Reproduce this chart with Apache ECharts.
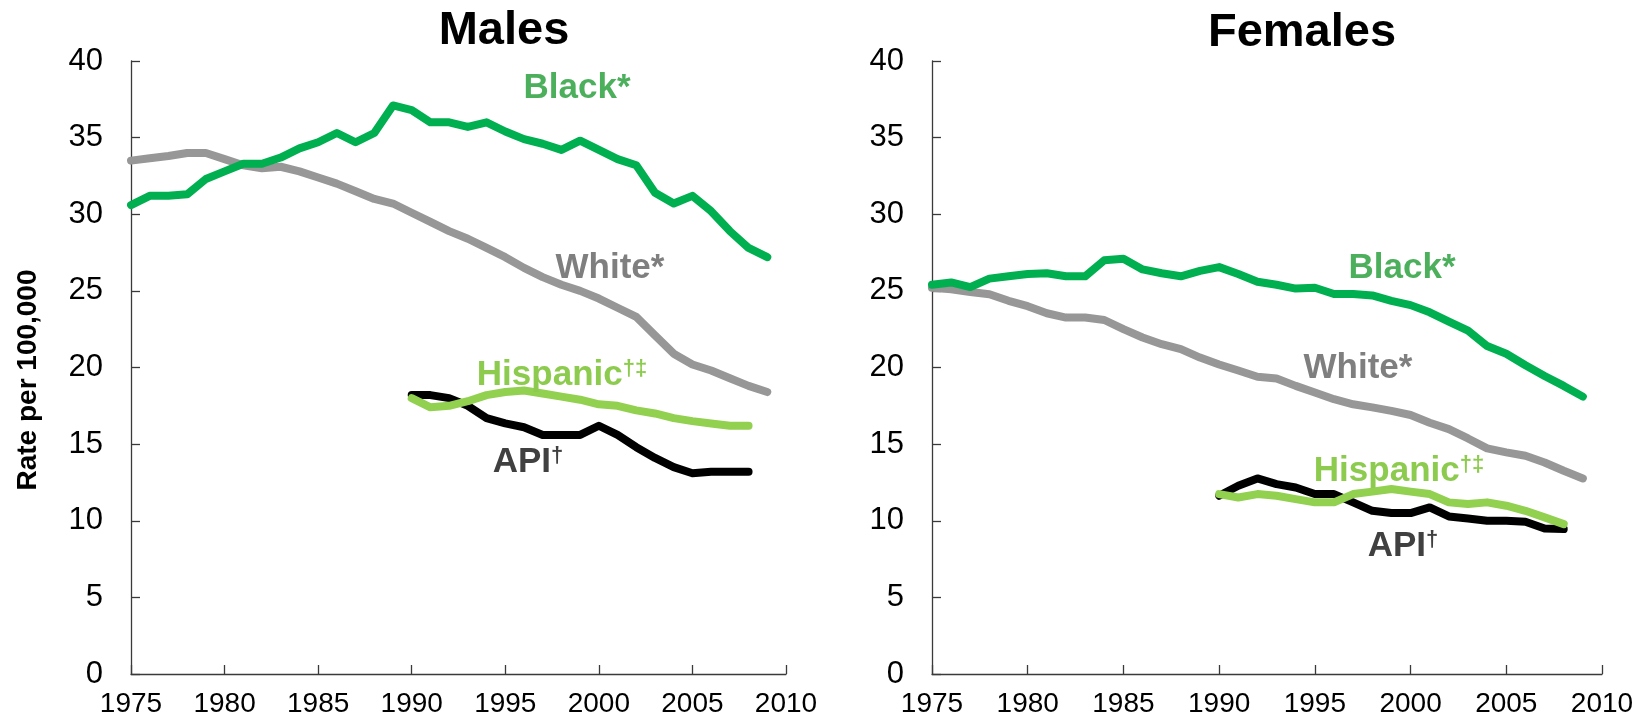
<!DOCTYPE html>
<html>
<head>
<meta charset="utf-8">
<script src="https://cdn.jsdelivr.net/npm/echarts@6/dist/echarts.min.js"></script>
<style>
html,body{margin:0;padding:0;background:#fff;}
#chart{width:1637px;height:721px;}
</style>
</head>
<body>
<div id="chart"></div>
<script>
// ---- Data ----
const years = [1975,1976,1977,1978,1979,1980,1981,1982,1983,1984,1985,1986,1987,1988,1989,1990,1991,1992,1993,1994,1995,1996,1997,1998,1999,2000,2001,2002,2003,2004,2005,2006,2007,2008,2009];
const yearsSub = [1990,1991,1992,1993,1994,1995,1996,1997,1998,1999,2000,2001,2002,2003,2004,2005,2006,2007,2008];

const maleBlack = [30.6,31.2,31.2,31.3,32.3,32.8,33.3,33.3,33.7,34.3,34.7,35.3,34.7,35.3,37.1,36.8,36.0,36.0,35.7,36.0,35.4,34.9,34.6,34.2,34.8,34.2,33.6,33.2,31.4,30.7,31.2,30.2,28.9,27.8,27.2];
const maleWhite = [33.5,33.65,33.8,34.0,34.0,33.6,33.2,33.0,33.1,32.8,32.4,32.0,31.5,31.0,30.7,30.1,29.5,28.9,28.4,27.8,27.2,26.5,25.9,25.4,25.0,24.5,23.9,23.3,22.1,20.9,20.2,19.8,19.3,18.8,18.4];
const maleHispanic = [18.0,17.4,17.5,17.8,18.2,18.4,18.5,18.3,18.1,17.9,17.6,17.5,17.2,17.0,16.7,16.5,16.35,16.2,16.2];
const maleAPI = [18.2,18.2,18.0,17.5,16.7,16.35,16.1,15.6,15.6,15.6,16.2,15.6,14.8,14.1,13.5,13.1,13.2,13.2,13.2];

const femaleBlack = [25.4,25.55,25.25,25.8,25.95,26.1,26.15,25.95,25.95,27.0,27.1,26.4,26.15,25.95,26.3,26.55,26.1,25.6,25.4,25.15,25.2,24.8,24.8,24.7,24.35,24.07,23.6,23.0,22.4,21.4,20.9,20.15,19.45,18.8,18.1];
const femaleWhite = [25.2,25.1,24.93,24.78,24.35,24.0,23.54,23.26,23.26,23.1,22.5,21.96,21.52,21.2,20.65,20.2,19.8,19.4,19.28,18.8,18.37,17.93,17.6,17.4,17.17,16.9,16.4,15.98,15.37,14.72,14.46,14.24,13.8,13.26,12.76];
const femaleHispanic = [11.74,11.52,11.74,11.63,11.41,11.2,11.2,11.74,11.9,12.07,11.9,11.74,11.2,11.09,11.2,10.98,10.65,10.22,9.78];
const femaleAPI = [11.63,12.28,12.76,12.39,12.17,11.74,11.74,11.2,10.65,10.5,10.5,10.87,10.28,10.15,10.0,10.0,9.93,9.5,9.46];

const panelTitles = ['Males', 'Females'];
const yAxisTitle = 'Rate per 100,000';
const xRange = [1975, 2010];
const yRange = [0, 40];

// ---- Styles ----
const FONT = 'Liberation Sans, Arial, Helvetica, sans-serif';
const C_BLACK = '#00b050', C_BLACK_LBL = '#4caf5c';
const C_WHITE = '#979797', C_WHITE_LBL = '#7f7f7f';
const C_HISP = '#92d050', C_HISP_LBL = '#8ccb4d';
const C_API = '#000000', C_API_LBL = '#404040';
const AXIS_COLOR = '#3a3a3a';

function pairs(xs, ys) { return xs.map((x, i) => [x, ys[i]]); }

function lineSeries(name, idx, xs, ys, color, z) {
  return {
    name: name, type: 'line', xAxisIndex: idx, yAxisIndex: idx,
    data: pairs(xs, ys), showSymbol: false, symbol: 'none', z: z,
    lineStyle: { color: color, width: 8, cap: 'round', join: 'round' },
    emphasis: { disabled: true }, animation: false
  };
}

function xAxis(idx) {
  return {
    type: 'value', gridIndex: idx, min: xRange[0], max: xRange[1], interval: 5,
    axisLine: { show: true, onZero: false, lineStyle: { color: AXIS_COLOR, width: 1.3 } },
    axisTick: { show: true, inside: true, length: 9, lineStyle: { color: AXIS_COLOR, width: 1.3 } },
    axisLabel: { fontSize: 28, color: '#000', fontFamily: FONT, margin: 16, formatter: v => String(v) },
    splitLine: { show: false }
  };
}
function yAxis(idx) {
  return {
    type: 'value', gridIndex: idx, min: yRange[0], max: yRange[1], interval: 5,
    axisLine: { show: true, lineStyle: { color: AXIS_COLOR, width: 1.3 } },
    axisTick: { show: true, inside: true, length: 9, lineStyle: { color: AXIS_COLOR, width: 1.3 } },
    axisLabel: { fontSize: 31, color: '#000', fontFamily: FONT, margin: 28 },
    splitLine: { show: false }
  };
}

function label(x, y, main, sup, color) {
  const rich = {
    m: { fontSize: 35, fontWeight: 'bold', fontFamily: FONT, fill: color, color: color },
    s: { fontSize: 22, fontWeight: 'bold', fontFamily: FONT, fill: color, color: color, verticalAlign: 'top', padding: [0, 0, 12, 0] }
  };
  return {
    type: 'text', x: x, y: y, z: 100,
    style: {
      text: '{m|' + main + '}' + (sup ? '{s|' + sup + '}' : ''),
      rich: rich, align: 'center', verticalAlign: 'middle', fill: color
    }
  };
}

const chart = echarts.init(document.getElementById('chart'), null, { renderer: 'canvas' });
chart.setOption({
  backgroundColor: '#ffffff',
  animation: false,
  grid: [
    { left: 131, right: 1637 - 786, top: 61, bottom: 721 - 674 },
    { left: 932, right: 1637 - 1602, top: 61, bottom: 721 - 674 }
  ],
  xAxis: [xAxis(0), xAxis(1)],
  yAxis: [yAxis(0), yAxis(1)],
  series: [
    lineSeries('White*', 0, years, maleWhite, C_WHITE, 2),
    lineSeries('Black*', 0, years, maleBlack, C_BLACK, 3),
    lineSeries('API†', 0, yearsSub, maleAPI, C_API, 4),
    lineSeries('Hispanic†‡', 0, yearsSub, maleHispanic, C_HISP, 5),
    lineSeries('White*', 1, years, femaleWhite, C_WHITE, 2),
    lineSeries('Black*', 1, years, femaleBlack, C_BLACK, 3),
    lineSeries('API†', 1, yearsSub, femaleAPI, C_API, 4),
    lineSeries('Hispanic†‡', 1, yearsSub, femaleHispanic, C_HISP, 5)
  ],
  graphic: [
    { type: 'text', x: 504, y: 31, style: { text: panelTitles[0], font: 'bold 47px ' + FONT, fill: '#000', align: 'center', verticalAlign: 'middle' } },
    { type: 'text', x: 1302, y: 33, style: { text: panelTitles[1], font: 'bold 47px ' + FONT, fill: '#000', align: 'center', verticalAlign: 'middle' } },
    { type: 'text', x: 28, y: 380, rotation: Math.PI / 2, style: { text: yAxisTitle, font: 'bold 28px ' + FONT, fill: '#000', align: 'center', verticalAlign: 'middle' } },
    label(577, 88, 'Black*', '', C_BLACK_LBL),
    label(610, 268, 'White*', '', C_WHITE_LBL),
    label(562, 375, 'Hispanic', '†‡', C_HISP_LBL),
    label(528, 462, 'API', '†', C_API_LBL),
    label(1402, 268, 'Black*', '', C_BLACK_LBL),
    label(1358, 368, 'White*', '', C_WHITE_LBL),
    label(1399, 471, 'Hispanic', '†‡', C_HISP_LBL),
    label(1403, 546, 'API', '†', C_API_LBL)
  ]
});
</script>
</body>
</html>
